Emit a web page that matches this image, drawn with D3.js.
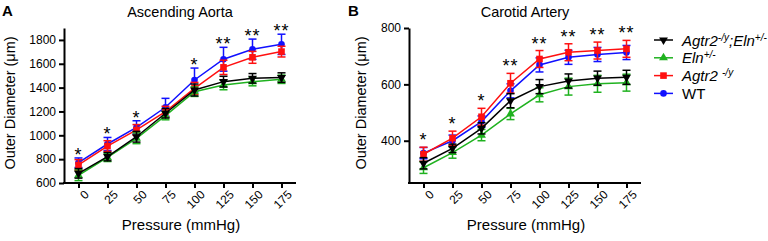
<!DOCTYPE html>
<html>
<head>
<meta charset="utf-8">
<title>Outer Diameter vs Pressure</title>
<script src="https://cdn.jsdelivr.net/npm/d3@7"></script>
<style>
  body { margin: 0; background: #fff; }
  svg { font-family: "Liberation Sans", Arial, sans-serif; }
  .axis path, .axis line { stroke: #000; stroke-width: 2px; }
  .axis text { font-size: 12px; fill: #000; }
</style>
</head>
<body>
<script>
var width = 768, height = 241;

var pressures = [0, 25, 50, 75, 100, 125, 150, 175];

// Ascending aorta (um)
var aortaDKO   = [681, 821, 988, 1185, 1380, 1450, 1478, 1484];
var aortaDKOe  = [40, 35, 45, 40, 50, 45, 40, 40];
var aortaEln   = [665, 815, 975, 1165, 1366, 1422, 1450, 1470];
var aortaElne  = [45, 35, 45, 35, 40, 40, 35, 35];
var aortaAgtr  = [751, 910, 1045, 1198, 1394, 1570, 1654, 1702];
var aortaAgtre = [45, 45, 45, 45, 50, 60, 50, 45];
var aortaWT    = [770, 927, 1067, 1235, 1464, 1638, 1722, 1763];
var aortaWTe   = [40, 55, 55, 75, 100, 100, 85, 85];
var aortaStars = ["*", "*", "*", "", "*", "**", "**", "**"];

// Carotid artery (um)
var carDKO   = [320, 373, 444, 542, 592, 612, 622, 625];
var carDKOe  = [20, 15, 20, 25, 25, 25, 25, 25];
var carEln   = [304, 358, 420, 495, 563, 592, 602, 606];
var carElne  = [20, 20, 20, 20, 25, 30, 30, 30];
var carAgtr  = [352, 409, 485, 604, 690, 714, 720, 726];
var carAgtre = [25, 25, 30, 35, 30, 30, 30, 30];
var carWT    = [356, 400, 468, 577, 669, 696, 706, 713];
var carWTe   = [20, 20, 20, 25, 25, 25, 25, 25];
var carStars = ["*", "*", "*", "**", "**", "**", "**", "**"];

var aortaTicks = [600, 800, 1000, 1200, 1400, 1600, 1800];
var carTicks = [400, 600, 800];

var colors = { dko: "#000000", eln: "#1fb21f", agtr: "#ff1010", wt: "#1010ff" };

var svg = d3.select("body").append("svg")
    .attr("width", width)
    .attr("height", height);

function marker(g, type, color, x, y) {
    if (type === "circle") {
        g.append("circle").attr("cx", x).attr("cy", y).attr("r", 3.3).attr("fill", color);
    } else if (type === "square") {
        g.append("rect").attr("x", x - 3.3).attr("y", y - 3.3).attr("width", 6.6).attr("height", 6.6).attr("fill", color);
    } else {
        var sym = d3.symbol().type(d3.symbolTriangle).size(34);
        g.append("path").attr("d", sym())
            .attr("transform", "translate(" + x + "," + y + ")" + (type === "down" ? " rotate(180)" : ""))
            .attr("fill", color);
    }
}

function renderPanel(opt) {
    var x = d3.scalePoint().domain(pressures).range([opt.left, opt.left + 232]).padding(0.5);
    var y = d3.scaleLinear().domain(opt.domain).range([183, 28]);

    var series = [
        { v: opt.wt, e: opt.wte, c: colors.wt, m: "circle" },
        { v: opt.agtr, e: opt.agtre, c: colors.agtr, m: "square" },
        { v: opt.eln, e: opt.elne, c: colors.eln, m: "up" },
        { v: opt.dko, e: opt.dkoe, c: colors.dko, m: "down" }
    ];

    var line = d3.line().x(function(d, i) { return x(pressures[i]); }).y(function(d) { return y(d); });

    series.forEach(function(s) {
        var g = svg.append("g");
        g.append("path").datum(s.v).attr("d", line)
            .attr("fill", "none").attr("stroke", s.c).attr("stroke-width", 1.5);
        s.v.forEach(function(v, i) {
            var px = x(pressures[i]);
            var lo = y(v - s.e[i]), hi = y(v + s.e[i]);
            g.append("line").attr("x1", px).attr("x2", px).attr("y1", lo).attr("y2", hi)
                .attr("stroke", s.c).attr("stroke-width", 1.5);
            [lo, hi].forEach(function(yy) {
                g.append("line").attr("x1", px - 4).attr("x2", px + 4).attr("y1", yy).attr("y2", yy)
                    .attr("stroke", s.c).attr("stroke-width", 1.5);
            });
            marker(g, s.m, s.c, px, y(v));
        });
    });

    // significance stars
    opt.stars.forEach(function(s, i) {
        if (!s) return;
        var top = d3.max(series, function(d) { return d.v[i] + d.e[i]; });
        svg.append("text")
            .attr("x", x(pressures[i]))
            .attr("y", y(top) + opt.starGap)
            .attr("text-anchor", "middle")
            .attr("font-size", "18px")
            .attr("letter-spacing", "1px")
            .text(s);
    });

    var xAxis = svg.append("g").attr("class", "axis")
        .attr("transform", "translate(0,183)")
        .call(d3.axisBottom(x).tickSizeOuter(0).tickSize(5).tickPadding(4));
    xAxis.selectAll("text")
        .attr("text-anchor", "end")
        .attr("dx", "-0.1em")
        .attr("dy", "0.6em")
        .attr("transform", "rotate(-45)");
    xAxis.select(".domain").attr("d", "M" + (opt.left - 1) + ",0H" + (opt.left + 232));

    svg.append("g").attr("class", "axis")
        .attr("transform", "translate(" + opt.left + ",0)")
        .call(d3.axisLeft(y).tickValues(opt.ticks).tickFormat(d3.format("d"))
            .tickSize(5).tickPadding(3).tickSizeOuter(0));

    svg.append("text")
        .attr("transform", "translate(" + opt.ylabX + ",103) rotate(-90)")
        .attr("text-anchor", "middle")
        .attr("font-size", "14.5px")
        .text("Outer Diameter (μm)");

    svg.append("text")
        .attr("x", opt.left + 117)
        .attr("y", 230)
        .attr("text-anchor", "middle")
        .attr("font-size", "15px")
        .text("Pressure (mmHg)");

    svg.append("text")
        .attr("x", opt.left + 116)
        .attr("y", 16.5)
        .attr("text-anchor", "middle")
        .attr("font-size", "14.5px")
        .text(opt.title);

    svg.append("text")
        .attr("x", opt.letterX)
        .attr("y", 15.5)
        .attr("font-size", "15px")
        .attr("font-weight", "bold")
        .text(opt.letter);
}

renderPanel({
    left: 64, domain: [600, 1900], ticks: aortaTicks,
    dko: aortaDKO, dkoe: aortaDKOe, eln: aortaEln, elne: aortaElne,
    agtr: aortaAgtr, agtre: aortaAgtre, wt: aortaWT, wte: aortaWTe,
    stars: aortaStars, title: "Ascending Aorta", letter: "A", letterX: 2, ylabX: 15,
    starGap: 3
});

renderPanel({
    left: 409, domain: [250, 800], ticks: carTicks,
    dko: carDKO, dkoe: carDKOe, eln: carEln, elne: carElne,
    agtr: carAgtr, agtre: carAgtre, wt: carWT, wte: carWTe,
    stars: carStars, title: "Carotid Artery", letter: "B", letterX: 348, ylabX: 366,
    starGap: -1
});

// legend
var legendItems = [
    { c: colors.dko, m: "down", parts: [["Agtr2", ""], ["-/y", "sup"], [";Eln", ""], ["+/-", "sup"]] },
    { c: colors.eln, m: "up", parts: [["Eln", ""], ["+/-", "sup"]] },
    { c: colors.agtr, m: "square", parts: [["Agtr2 ", ""], ["-/y", "sup"]] },
    { c: colors.wt, m: "circle", parts: [["WT", "plain"]] }
];
var legend = svg.append("g");
legendItems.forEach(function(d, i) {
    var ly = 40 + i * 17.8;
    legend.append("line").attr("x1", 654).attr("x2", 673).attr("y1", ly).attr("y2", ly)
        .attr("stroke", d.c).attr("stroke-width", 1.5);
    marker(legend, d.m, d.c, 663.5, ly);
    var t = legend.append("text").attr("x", 682).attr("y", ly + 5.5).attr("font-size", "15px");
    d.parts.forEach(function(p) {
        var ts = t.append("tspan").text(p[0]);
        if (p[1] !== "plain") ts.attr("font-style", "italic");
        if (p[1] === "sup") ts.attr("font-size", "10px").attr("dy", "-5");
        else if (t.selectAll("tspan").size() > 1) ts.attr("dy", "5");
    });
});
</script>
</body>
</html>
